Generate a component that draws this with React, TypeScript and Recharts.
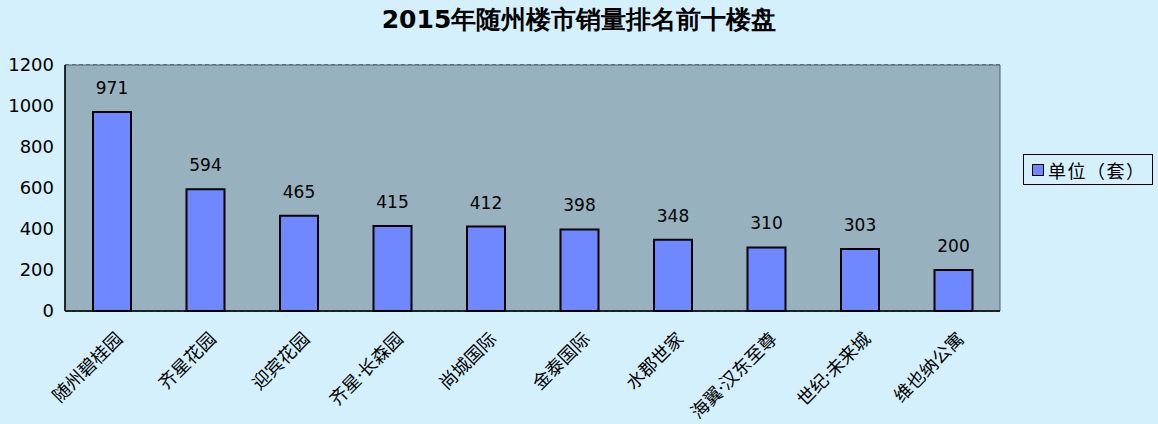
import React from 'react';
import {
  Bar,
  BarChart,
  CartesianGrid,
  LabelList,
  ReferenceArea,
  XAxis,
  YAxis,
} from 'recharts';

const loupan = [
  '随州碧桂园',
  '齐星花园',
  '迎宾花园',
  '齐星·长森园',
  '尚城国际',
  '金泰国际',
  '水郡世家',
  '海翼·汉东至尊',
  '世纪·未来城',
  '维也纳公寓',
];
const xiaoliang = [971, 594, 465, 415, 412, 398, 348, 310, 303, 200];
const yTicks = [0, 200, 400, 600, 800, 1000, 1200];

const daten = loupan.map((name, i) => ({ name, taoshu: xiaoliang[i] }));

const zahlFont = '"DejaVu Sans", Verdana, sans-serif';
const cjkFont = '"Noto Sans", "Noto Sans CJK SC", sans-serif';

function SchraegTick(props: any) {
  const { x, y, payload } = props;
  return (
    <g transform={`translate(${x + 7},${y + 16})`}>
      <text
        transform="rotate(-45)"
        textAnchor="end"
        dominantBaseline="central"
        fontFamily={cjkFont}
        fontSize={18}
        fill="#000"
      >
        {payload.value}
      </text>
    </g>
  );
}

function LegendeBox() {
  return (
    <div
      style={{
        position: 'absolute',
        left: 1023,
        top: 154,
        border: '1px solid #000',
        width: 130,
        height: 31,
        boxSizing: 'border-box',
        display: 'flex',
        alignItems: 'center',
        paddingLeft: 8,
        fontFamily: cjkFont,
        fontSize: 18,
        letterSpacing: 1.5,
        color: '#000',
        whiteSpace: 'nowrap',
      }}
    >
      <span
        style={{
          display: 'inline-block',
          width: 10,
          height: 10,
          background: '#7088FF',
          border: '1.5px solid #000',
          marginRight: 4,
        }}
      />
      单位（套）
    </div>
  );
}

export default function App() {
  return (
    <div
      style={{
        position: 'absolute',
        left: 0,
        top: 0,
        width: 1158,
        height: 424,
        background: '#D4F0FC',
      }}
    >
      <div
        style={{
          position: 'absolute',
          left: 0,
          top: 3,
          width: 1158,
          textAlign: 'center',
          fontFamily: zahlFont,
          fontWeight: 'bold',
          fontSize: 25,
          color: '#000',
        }}
      >
        2015年随州楼市销量排名前十楼盘
      </div>
      <BarChart
        width={1158}
        height={424}
        data={daten}
        margin={{ top: 65, right: 158, left: 10, bottom: 0 }}
        barCategoryGap={0}
      >
        <ReferenceArea y1={0} y2={1200} fill="#97B2BE" fillOpacity={1} stroke="#4E616C" strokeWidth={1} />
        <CartesianGrid vertical={false} stroke="#000" strokeDasharray="4 3" />
        <XAxis
          dataKey="name"
          height={113}
          interval={0}
          tick={<SchraegTick />}
          tickLine={false}
          axisLine={{ stroke: '#000', strokeWidth: 1.5 }}
        />
        <YAxis
          width={55}
          domain={[0, 1200]}
          ticks={yTicks}
          interval={0}
          tickLine={false}
          axisLine={{ stroke: '#000', strokeWidth: 1.5 }}
          tick={{ fill: '#000', fontSize: 18, fontFamily: zahlFont }}
          tickMargin={5}
        />
        <Bar
          dataKey="taoshu"
          name="单位（套）"
          fill="#7088FF"
          stroke="#000"
          strokeWidth={2}
          barSize={38}
          isAnimationActive={false}
        >
          <LabelList
            dataKey="taoshu"
            position="top"
            offset={18}
            fill="#000"
            fontSize={17}
            fontFamily={zahlFont}
          />
        </Bar>
      </BarChart>
      <LegendeBox />
    </div>
  );
}
